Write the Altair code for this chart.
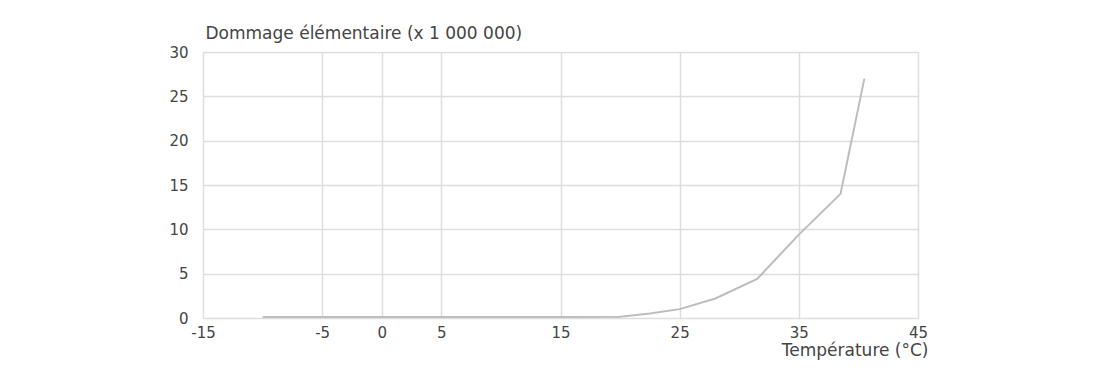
import altair as alt
import pandas as pd

# Data
temperature = [-10, -5, 0, 5, 10, 15, 20, 22.5, 25, 28, 31.5, 35, 38.5, 40.5]
damage = [0.1, 0.1, 0.1, 0.1, 0.1, 0.1, 0.15, 0.5, 1.0, 2.2, 4.4, 9.4, 14.0, 27.0]

x_ticks = [-15, -5, 0, 5, 15, 25, 35, 45]
y_ticks = [0, 5, 10, 15, 20, 25, 30]

df = pd.DataFrame({"temp": temperature, "dmg": damage})

FONT = "DejaVu Sans"
TXT = "#444444"

chart = (
    alt.Chart(df)
    .mark_line(color="#bdbdbd", strokeWidth=2)
    .encode(
        x=alt.X(
            "temp:Q",
            scale=alt.Scale(domain=[-15, 45], nice=False, zero=False),
            axis=alt.Axis(
                values=x_ticks,
                labelExpr="'' + datum.value",
                title="Température (°C)",
                titleAnchor="end",
                titleAlign="right",
                titleX=725,
                titleY=37,
                titleBaseline="alphabetic",
                titleFontSize=17,
                titleFontWeight="normal",
                titleColor=TXT,
                titleFont=FONT,
                labelFontSize=15,
                labelColor=TXT,
                labelFont=FONT,
                labelPadding=7,
                labelFlush=False,
                ticks=False,
                domain=False,
                grid=True,
                gridColor="#dddddd",
                gridWidth=1.5,
            ),
        ),
        y=alt.Y(
            "dmg:Q",
            scale=alt.Scale(domain=[0, 30], nice=False),
            axis=alt.Axis(
                values=y_ticks,
                title="Dommage élémentaire (x 1 000 000)",
                titleAngle=0,
                titleAlign="left",
                titleAnchor="start",
                titleX=2,
                titleY=-14,
                titleBaseline="alphabetic",
                titleFontSize=17,
                titleFontWeight="normal",
                titleColor=TXT,
                titleFont=FONT,
                labelFontSize=15,
                labelColor=TXT,
                labelFont=FONT,
                labelPadding=15,
                ticks=False,
                domain=False,
                grid=True,
                gridColor="#dddddd",
                gridWidth=1.5,
            ),
        ),
    )
    .properties(
        width=715,
        height=266,
        padding={"left": 195, "top": 44, "right": 187, "bottom": 47},
        autosize=alt.AutoSizeParams(type="none"),
    )
    .configure_view(stroke="#a0a0a0", strokeWidth=1.2)
    .configure(background="white")
)

chart.save("out.html", embed_options={"renderer": "svg", "actions": False})
